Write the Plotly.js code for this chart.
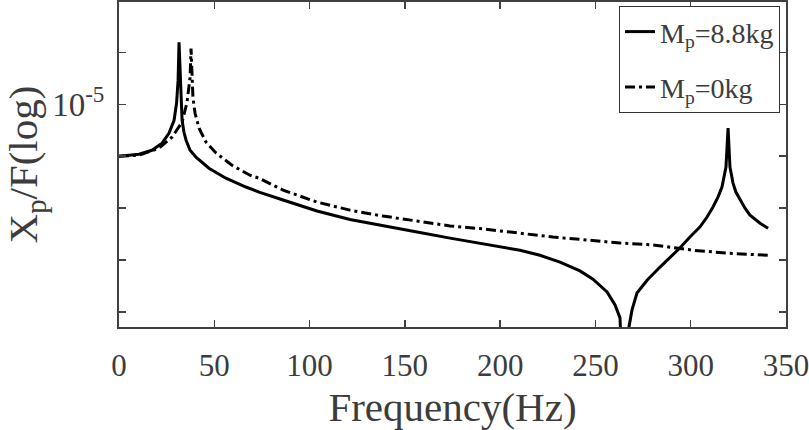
<!DOCTYPE html>
<html>
<head>
<meta charset="utf-8">
<script src="https://cdn.plot.ly/plotly-3.0.1.min.js"></script>
<style>html,body{margin:0;padding:0;background:#fff;}#chart{width:809px;height:430px;}</style>
</head>
<body>
<div id="chart"></div>
<script>
// Mp = 8.8 kg (solid)
const freqLoaded = [0, 10.5, 17.3, 22.6, 26.2, 28.9, 30.2, 31.0, 31.5, 32.5, 33.1, 34.1, 35.2, 37.3, 40.4, 47.2, 56.1, 66.6, 73.5, 86.1, 103.9, 121.2, 138.5, 156.4, 173.7, 191.0, 210.4, 220.9, 231.4, 241.9, 248.7, 256.1, 260.3, 262.9, 265.5, 267.6, 269.2, 271.8, 277.1, 283.9, 294.4, 299.6, 304.9, 308.5, 311.7, 314.3, 316.4, 318.5, 319.0, 319.6, 320.6, 322.2, 323.7, 325.9, 328.5, 331.1, 336.4, 340.6];
const respLoaded = [6.31e-6, 6.42e-6, 6.65e-6, 7.08e-6, 7.73e-6, 8.68e-6, 1.009e-5, 1.236e-5, 1.732e-5, 1.009e-5, 8.68e-6, 7.80e-6, 7.27e-6, 6.65e-6, 6.25e-6, 5.67e-6, 5.19e-6, 4.80e-6, 4.59e-6, 4.28e-6, 3.88e-6, 3.60e-6, 3.40e-6, 3.22e-6, 3.05e-6, 2.906e-6, 2.74e-6, 2.62e-6, 2.467e-6, 2.28e-6, 2.12e-6, 1.892e-6, 1.686e-6, 1.503e-6, 5.0e-7, 1.387e-6, 1.614e-6, 1.875e-6, 2.10e-6, 2.36e-6, 2.80e-6, 3.08e-6, 3.37e-6, 3.67e-6, 4.02e-6, 4.39e-6, 4.80e-6, 5.73e-6, 7.27e-6, 8.09e-6, 5.73e-6, 4.97e-6, 4.59e-6, 4.28e-6, 3.98e-6, 3.74e-6, 3.48e-6, 3.33e-6];
// Mp = 0 kg (dash-dot)
const freqEmpty = [0, 10.5, 21.0, 27.8, 33.1, 35.7, 37.3, 37.8, 38.8, 39.9, 42.0, 45.7, 50.9, 59.3, 68.7, 73.5, 86.1, 103.9, 121.2, 138.5, 156.4, 173.7, 191.0, 215.7, 227.7, 245.6, 262.9, 280.2, 301.2, 319.0, 340.6];
const respEmpty = [6.31e-6, 6.37e-6, 6.77e-6, 7.47e-6, 8.53e-6, 1.018e-5, 1.27e-5, 1.64e-5, 1.064e-5, 9.23e-6, 8.09e-6, 7.14e-6, 6.49e-6, 5.82e-6, 5.33e-6, 5.19e-6, 4.67e-6, 4.20e-6, 3.91e-6, 3.71e-6, 3.55e-6, 3.40e-6, 3.31e-6, 3.16e-6, 3.08e-6, 3.00e-6, 2.92e-6, 2.87e-6, 2.74e-6, 2.67e-6, 2.62e-6];
const seriesNames = ['M<sub>p</sub>=8.8kg', 'M<sub>p</sub>=0kg'];
const xTickVals = [0, 50, 100, 150, 200, 250, 300, 350];
const yTickVals = [1.585e-6, 2.512e-6, 3.981e-6, 6.310e-6, 1e-5, 1.585e-5];
const yTickText = ['', '', '', '', '10<sup>-5</sup>', ''];

const txt = '#3c3c3c';
const serif = 'Liberation Serif';
const traces = [
  {x: freqLoaded, y: respLoaded, name: seriesNames[0], legendgroup: 'g1', mode: 'lines', type: 'scatter',
   line: {color: '#000', width: 3}},
  {x: freqEmpty, y: respEmpty, name: seriesNames[1], legendgroup: 'g2', mode: 'lines', type: 'scatter',
   line: {color: '#000', width: 3, dash: '10px,4px,3px,4px'}}
];
const axisCommon = {
  showgrid: false, zeroline: false, showline: true, linecolor: '#404040', linewidth: 2,
  mirror: 'ticks', ticks: 'inside', ticklen: 7, tickwidth: 1.5, tickcolor: '#404040'
};
const layout = {
  width: 809, height: 430,
  margin: {l: 119, r: 23, t: 2, b: 103},
  paper_bgcolor: '#fff', plot_bgcolor: '#fff',
  font: {family: serif, color: txt},
  showlegend: true,
  legend: {x: 0.991, xanchor: 'right', y: 0.988, yanchor: 'top', bgcolor: '#fff',
           bordercolor: '#333', borderwidth: 1, font: {size: 28, family: serif, color: txt},
           itemwidth: 30, traceorder: 'grouped', tracegroupgap: 16},
  xaxis: Object.assign({}, axisCommon, {
    range: [0, 350], tickmode: 'array', tickvals: xTickVals, ticklabeloverflow: 'allow',
    tickfont: {size: 31, family: serif, color: txt}, ticklabelstandoff: 10,
    title: {text: 'Frequency(Hz)', font: {size: 41, family: serif, color: txt}, standoff: 12}
  }),
  yaxis: Object.assign({}, axisCommon, {
    type: 'log', range: [-5.858, -4.606], tickmode: 'array', tickvals: yTickVals, ticktext: yTickText,
    tickfont: {size: 33, family: serif, color: txt}, ticklabelstandoff: 6,
    title: {text: 'X<sub>p</sub>/F(log)', font: {size: 41, family: serif, color: txt}, standoff: 6}
  })
};
Plotly.newPlot('chart', traces, layout, {staticPlot: true, displayModeBar: false});
</script>
</body>
</html>
